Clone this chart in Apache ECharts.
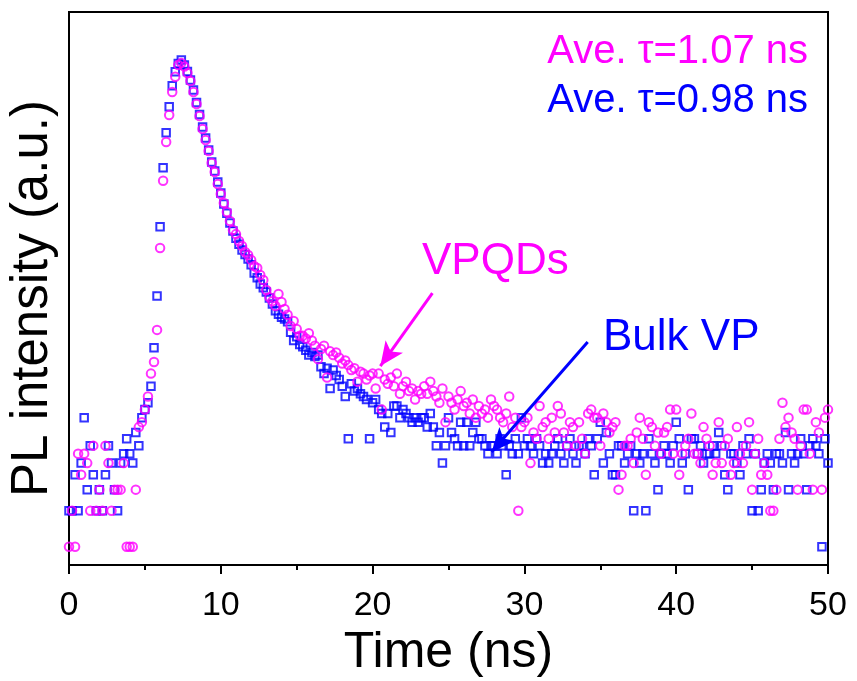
<!DOCTYPE html>
<html>
<head>
<meta charset="utf-8">
<script src="https://cdn.jsdelivr.net/npm/echarts@6/dist/echarts.min.js"></script>
<style>
html,body{margin:0;padding:0;background:#fff;}
#chart{width:857px;height:681px;}
</style>
</head>
<body>
<div id="chart"></div>
<script>
// TCSPC channel width (ns); channel i sits at i * channelWidth
const channelWidth = 0.2;

// Bulk VP counts per channel (blue squares)
const bulkCounts = [
  2,2,4,2,5,12,3,7,4,2, 3,2,4,7,5,3,2,5,6,8, 6,5,9,7,12,14,16,
  22,46,125,474,1475,2890,4775,7150,9360,10970,11730,10650,9400,
  7980,6580,5170,4100,3230,2610,2070,1650,1385,1120,905,735,615,510,437,380,338,303,278,255,228,
  194,177,157,146,135,120,107,94,88,83,80,76,62,53,57,49,
  47,44,40,42,39,40,32,28,31,21,
  30,27,25,22,18,8,23,20,21,19,
  18,17,8,16,17,14,13,10,13,9,
  15,15,12,14,13,12,11,12,11,12,
  12,10,13,10,7,9,5,7,12,9,
  8,7,11,7,11,7,9,11,8,8,
  7,6,7,7,6,8,7,4,7,6,
  8,6,12,7,8,7,6,8,7,5,
  6,5,6,7,8,6,5,7,8,6,
  5,7,7,6,8,7,4,8,11,5,
  9,6,4,4,7,7,5,6,7,2,
  6,5,6,2,8,6,5,3,6,7,
  6,5,7,11,8,5,6,3,8,8,
  6,7,5,6,6,7,6,9,7,4,
  3,6,6,5,4,7,6,8,2,6,
  2,3,5,6,5,3,6,6,5,9,
  3,6,5,6,8,6,3,7,8,7,
  6,1,8,5
];

// VPQDs counts per channel (magenta circles)
const vpqdCounts = [
  1,2,1,6,4,6,5,2,7,2, 3,2,7,5,2,3,3,3,5,1, 1,1,3,10,11,14,18,28,
  35,65,314,1148,2420,4070,6340,8510,10650,11100,10350,9140,
  7830,6340,5030,3990,3110,2510,2035,1615,1358,1077,889,748,629,529,445,411,360,327,291,275,250,
  222,214,187,170,140,122,113,103,130,111,97,87,70,77,66,58,
  58,55,61,53,48,37,45,48,26,43,
  40,42,38,34,36,33,30,31,24,29,
  28,25,27,28,21,28,14,25,23,26,
  22,28,19,22,24,20,21,17,20,19,
  22,19,24,20,18,16,21,11,18,16,
  14,17,20,15,16,13,17,12,15,13,
  14,12,17,15,14,12,11,13,18,10,
  12,2,10,11,12,5,9,8,15,10,
  11,8,12,9,15,13,9,7,11,10,
  7,11,8,6,13,14,12,12,7,13,
  11,9,10,11,3,4,7,7,8,5,
  9,12,8,4,11,10,7,9,6,9,
  10,14,6,14,4,6,7,8,13,6,
  6,5,10,8,7,4,5,11,5,7,
  8,4,5,10,6,5,7,11,3,6,
  8,4,5,4,2,2,3,8,16,10,
  12,9,8,3,7,14,14,6,3,11,
  9,3,12,14
];

// Axis settings / tick labels
const xTicks = [0, 10, 20, 30, 40, 50];
const xTitle = 'Time (ns)';
const yTitle = 'PL intensity (a.u.)';

// Annotation texts and arrow endpoints [time ns, counts]
const tauVPQD = 'Ave. \u03c4=1.07 ns';
const tauBulk = 'Ave. \u03c4=0.98 ns';
const labelVPQD = 'VPQDs';
const labelBulk = 'Bulk VP';
const arrowVPQD = [[23.94, 132], [20.51, 32.4]];
const arrowBulk = [[34.17, 51.5], [27.84, 6.19]];

const timeNs = bulkCounts.map((_, i) => Math.round(i * channelWidth * 100) / 100);
const bulkData = bulkCounts.map((v, i) => [timeNs[i], v]);
const vpqdData = vpqdCounts.map((v, i) => [timeNs[i], v]);

const BLUE = '#0000ff';
const MAGENTA = '#ff00ff';
const FONT = 'Arial, "Liberation Sans", Helvetica, sans-serif';

const chart = echarts.init(document.getElementById('chart'), null, {renderer: 'canvas'});
chart.setOption({
  animation: false,
  backgroundColor: '#fff',
  grid: {left: 69, right: 29, top: 12, bottom: 116, containLabel: false, outerBoundsMode: 'none',
         show: true, borderColor: '#000', borderWidth: 2, backgroundColor: 'transparent'},
  xAxis: {
    type: 'value', min: xTicks[0], max: xTicks[xTicks.length - 1], interval: 10,
    axisLine: {show: true, onZero: false, lineStyle: {color: '#000', width: 2}},
    axisTick: {show: true, inside: false, length: 9, lineStyle: {color: '#000', width: 2}},
    minorTick: {show: true, splitNumber: 2, length: 5, lineStyle: {color: '#000', width: 2}},
    splitLine: {show: false},
    axisLabel: {color: '#000', fontSize: 34, fontFamily: FONT, margin: 24},
    name: xTitle, nameLocation: 'middle', nameGap: 63,
    nameTextStyle: {color: '#000', fontSize: 50, fontFamily: FONT}
  },
  yAxis: {
    type: 'log', logBase: 10, min: 0.703, max: 29570,
    axisLine: {show: true, lineStyle: {color: '#000', width: 2}},
    axisTick: {show: false}, axisLabel: {show: false}, splitLine: {show: false},
    name: yTitle, nameLocation: 'middle', nameGap: 11,
    nameTextStyle: {color: '#000', fontSize: 51, fontFamily: FONT, padding: [0, 20, 0, 0]}
  },
  series: [
    {
      name: 'Bulk VP', type: 'scatter', data: bulkData,
      symbol: 'rect', symbolSize: 7.5,
      itemStyle: {color: 'rgba(0,0,0,0)', borderColor: BLUE, borderWidth: 2},
      emphasis: {disabled: true},
      markLine: {
        silent: true, animation: false, symbol: ['none', 'arrow'], symbolSize: [16, 24],
        lineStyle: {color: BLUE, width: 3, type: 'solid'}, label: {show: false},
        data: [[{coord: arrowBulk[0]}, {coord: arrowBulk[1]}]]
      }
    },
    {
      name: 'VPQDs', type: 'scatter', data: vpqdData,
      symbol: 'circle', symbolSize: 8.5,
      itemStyle: {color: 'rgba(0,0,0,0)', borderColor: MAGENTA, borderWidth: 2},
      emphasis: {disabled: true},
      markLine: {
        silent: true, animation: false, symbol: ['none', 'arrow'], symbolSize: [16, 24],
        lineStyle: {color: MAGENTA, width: 3, type: 'solid'}, label: {show: false},
        data: [[{coord: arrowVPQD[0]}, {coord: arrowVPQD[1]}]]
      }
    }
  ],
  graphic: [
    {type: 'text', x: 808, y: 52, style: {text: tauVPQD, fill: MAGENTA, font: '40px ' + FONT, align: 'right', verticalAlign: 'middle', textAlign: 'right', textVerticalAlign: 'middle'}},
    {type: 'text', x: 808, y: 101, style: {text: tauBulk, fill: BLUE, font: '40px ' + FONT, align: 'right', verticalAlign: 'middle', textAlign: 'right', textVerticalAlign: 'middle'}},
    {type: 'text', x: 422, y: 262, style: {text: labelVPQD, fill: MAGENTA, font: '44px ' + FONT, align: 'left', verticalAlign: 'middle', textAlign: 'left', textVerticalAlign: 'middle'}},
    {type: 'text', x: 603, y: 338, style: {text: labelBulk, fill: BLUE, font: '44px ' + FONT, align: 'left', verticalAlign: 'middle', textAlign: 'left', textVerticalAlign: 'middle'}}
  ]
});
</script>
</body>
</html>
